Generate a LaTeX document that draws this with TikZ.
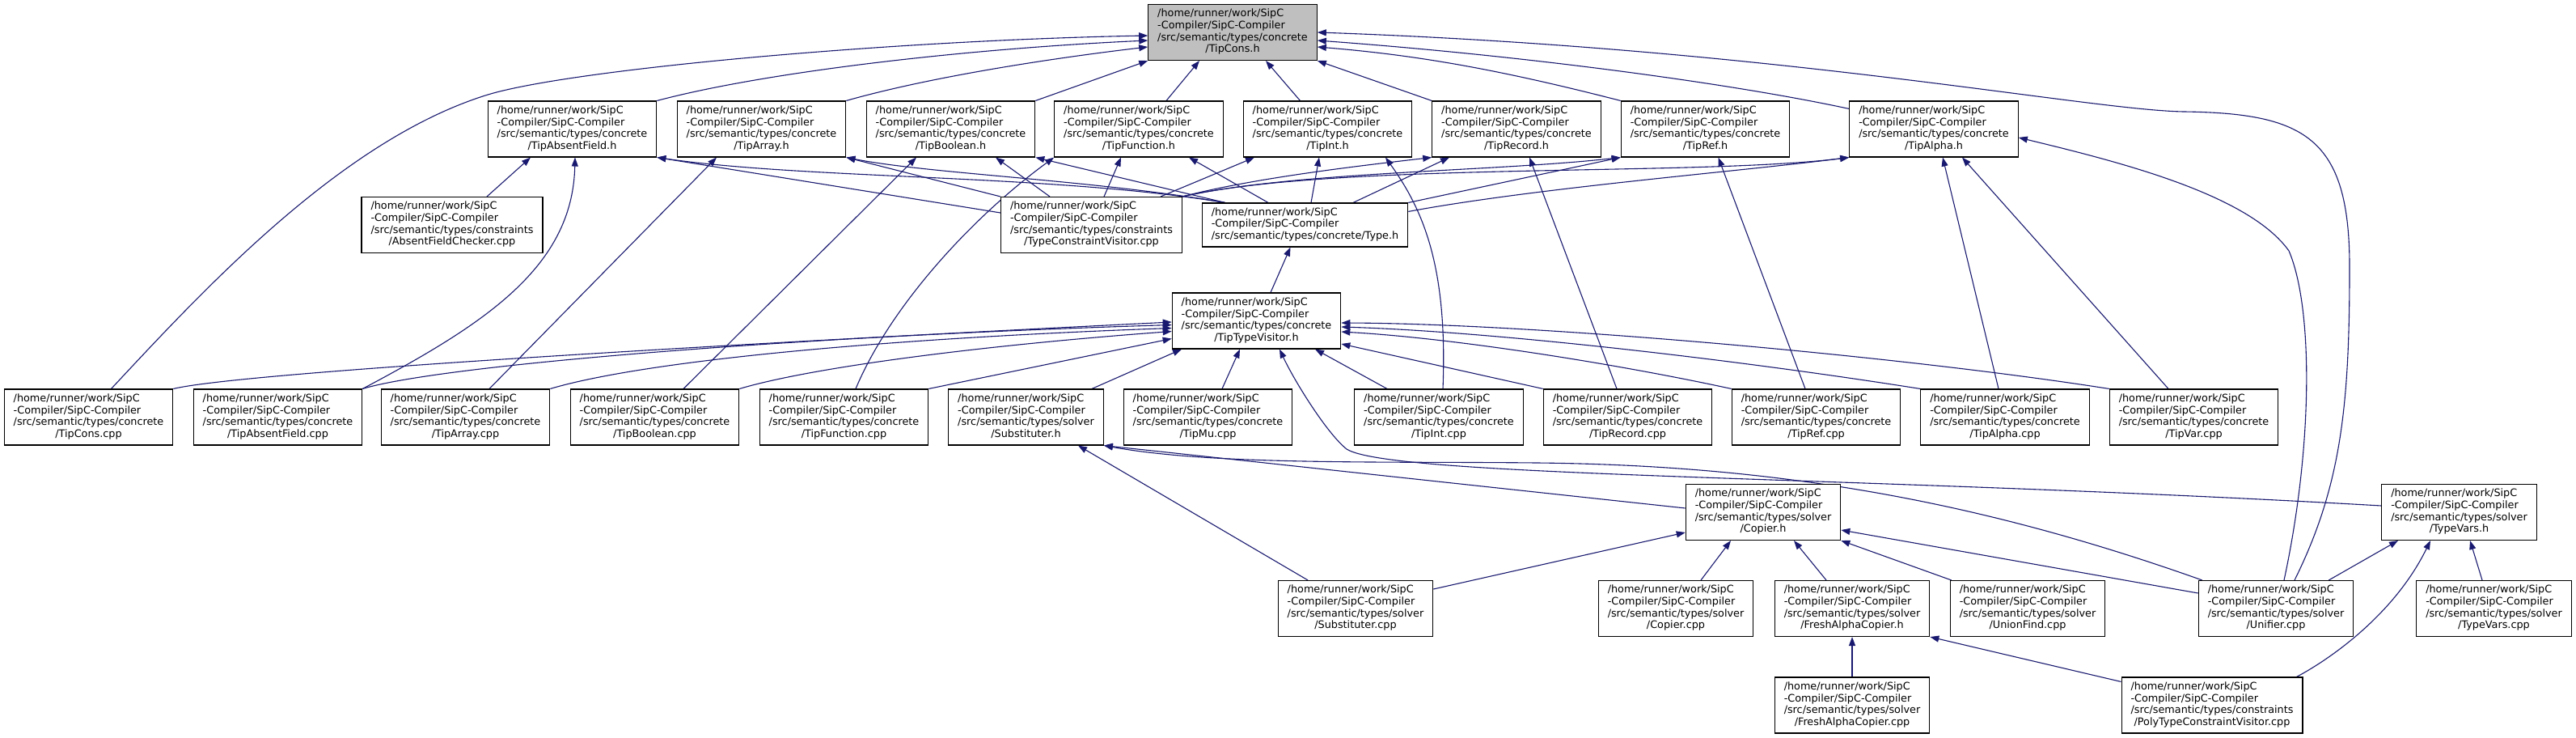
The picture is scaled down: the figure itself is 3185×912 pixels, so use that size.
\documentclass[tikz,border=0pt]{standalone}
\usepackage{fontspec}
\setmainfont{DejaVu Sans}
\usetikzlibrary{arrows.meta,backgrounds}
\definecolor{edgeblue}{HTML}{191970}
\definecolor{rootgray}{HTML}{BFBFBF}
\newcommand{\incfile}[2]{\begin{tabular}{@{}l@{}}/home/runner/work/SipC\\-Compiler/SipC-Compiler\\/src/semantic/types/#1\\\multicolumn{1}{@{}c@{}}{/#2}\end{tabular}}
\tikzset{file/.style={draw,fill=white,line width=1.1pt,inner xsep=11.5pt,inner ysep=0pt,minimum height=69pt,
    font=\fontsize{12.8}{14.7}\selectfont},
  root/.style={file,fill=rootgray},
  edge/.style={-{Triangle[length=11pt,width=8pt]},draw=edgeblue,line width=1.1pt}}

\begin{document}
\begin{tikzpicture}[x=1pt,y=-1pt]
\useasboundingbox (0,0) rectangle (3185,912);
\node[root] (tcons) at (1524,40) {\incfile{concrete}{TipCons.h}};
\foreach \n/\x/\f in {absh/707.5/TipAbsentField.h,arrh/941.5/TipArray.h,boolh/1175.5/TipBoolean.h,funh/1408/TipFunction.h,
  inth/1641.5/TipInt.h,rech/1875/TipRecord.h,refh/2108.5/TipRef.h,alphah/2391/TipAlpha.h}
  \node[file] (\n) at (\x,159.5) {\incfile{concrete}{\f}};
\node[file] (afc) at (559,278) {\incfile{constraints}{AbsentFieldChecker.cpp}};
\node[file] (tcv) at (1349.5,278) {\incfile{constraints}{TypeConstraintVisitor.cpp}};
\node[file,minimum height=54pt] (typeh) at (1613.5,278)
  {\begin{tabular}{@{}l@{}}/home/runner/work/SipC\\-Compiler/SipC-Compiler\\/src/semantic/types/concrete/Type.h\end{tabular}};
\node[file] (ttv) at (1553.5,396.5) {\incfile{concrete}{TipTypeVisitor.h}};
\foreach \n/\x/\f in {conscpp/109.5/TipCons.cpp,abscpp/343.5/TipAbsentField.cpp,arrcpp/575.5/TipArray.cpp,boolcpp/809.5/TipBoolean.cpp,
  funcpp/1043.5/TipFunction.cpp,mucpp/1493.5/TipMu.cpp,intcpp/1779/TipInt.cpp,reccpp/2012.5/TipRecord.cpp,refcpp/2245.5/TipRef.cpp,
  alphacpp/2479/TipAlpha.cpp,varcpp/2712.5/TipVar.cpp}
  \node[file] (\n) at (\x,515.5) {\incfile{concrete}{\f}};
\foreach \n/\x/\y/\f in {substh/1268.5/515.5/Substituter.h,copierh/2180/633/Copier.h,tvarsh/3040.5/633/TypeVars.h,
  substcpp/1676/752/Substituter.cpp,copiercpp/2072/752/Copier.cpp,fach/2290/752/FreshAlphaCopier.h,ufcpp/2507/752/UnionFind.cpp,
  unifcpp/2814/752/Unifier.cpp,tvarscpp/3083.5/752/TypeVars.cpp,faccpp/2290/871.5/FreshAlphaCopier.cpp}
  \node[file] (\n) at (\x,\y) {\incfile{solver}{\f}};
\node[file] (ptcv) at (2735,871.5) {\incfile{constraints}{PolyTypeConstraintVisitor.cpp}};

\begin{scope}[on background layer]
\fill[white] (0,0) rectangle (3185,912);
% TipCons.h
\draw[edge] ([xshift=28pt]conscpp.north) .. controls (250,360) and (420,175) .. (600,118) .. controls (700,86) and (1100,50) .. ([yshift=-4pt]tcons.west);
\draw[edge] (absh.north east) .. controls (950,88) and (1200,60) .. ([yshift=-10pt]tcons.west);
\draw[edge] (arrh.north east) .. controls (1150,95) and (1300,72) .. ([yshift=-18pt]tcons.west);
\draw[edge] (boolh.north east) -- (tcons.south west);
\draw[edge] ([xshift=34pt]funh.north) -- ([xshift=-41pt]tcons.south);
\draw[edge] ([xshift=-34pt]inth.north) -- ([xshift=41pt]tcons.south);
\draw[edge] (rech.north west) -- (tcons.south east);
\draw[edge] (refh.north west) .. controls (1850,85) and (1750,68) .. ([yshift=-18pt]tcons.east);
\draw[edge] ([yshift=-10pt]alphah.north west) .. controls (2150,105) and (1900,70) .. ([yshift=-10pt]tcons.east);
\draw[edge] ([xshift=23pt]unifcpp.north) .. controls (2895,600) and (2905,500) .. (2905,330) .. controls (2905,170) and (2850,140) .. (2700,138)
  .. controls (2580,136) and (2200,60) .. (tcons.east);
% TipAbsentField.h, TipArray.h, TipBoolean.h, TipFunction.h
\draw[edge] ([xshift=43pt]afc.north) -- ([xshift=-51.5pt]absh.south);
\draw[edge] (abscpp.north east) .. controls (600,400) and (708,330) .. ([xshift=3.5pt]absh.south);
\draw[edge] ([yshift=15pt]tcv.west) -- (absh.south east);
\draw[edge] ([xshift=29pt]typeh.north west) .. controls (1300,215) and (1000,222) .. (absh.south east);
\draw[edge] ([xshift=29.5pt]arrcpp.north) -- ([xshift=-55.5pt]arrh.south);
\draw[edge] (tcv.north west) -- (arrh.south east);
\draw[edge] ([xshift=29pt]typeh.north west) .. controls (1350,222) and (1150,215) .. (arrh.south east);
\draw[edge] ([xshift=35.5pt]boolcpp.north) -- ([xshift=-42.5pt]boolh.south);
\draw[edge] ([xshift=-51.5pt]tcv.north) -- ([xshift=55.5pt]boolh.south);
\draw[edge] ([xshift=29pt]typeh.north west) -- (boolh.south east);
\draw[edge] ([xshift=14.5pt]funcpp.north) .. controls (1100,380) and (1200,270) .. (funh.south west);
\draw[edge] ([xshift=15.5pt]tcv.north) -- ([xshift=-22pt]funh.south);
\draw[edge] ([xshift=-45.5pt]typeh.north) -- ([xshift=62pt]funh.south);
% TipInt.h, TipRecord.h, TipRef.h, TipAlpha.h
\draw[edge] ([xshift=5pt]intcpp.north) .. controls (1790,330) and (1760,260) .. ([xshift=71.5pt]inth.south);
\draw[edge] ([xshift=85.5pt]tcv.north) -- ([xshift=-90.5pt]inth.south);
\draw[edge] ([xshift=7.5pt]typeh.north) -- ([xshift=-10.5pt]inth.south);
\draw[edge] ([xshift=-13.5pt]reccpp.north) -- ([xshift=16pt]rech.south);
\draw[edge] (tcv.north east) .. controls (1550,220) and (1680,205) .. (rech.south west);
\draw[edge] ([xshift=59.5pt]typeh.north) -- ([xshift=-83pt]rech.south);
\draw[edge] ([xshift=-13.5pt]refcpp.north) -- ([xshift=16pt]refh.south);
\draw[edge] (tcv.north east) .. controls (1600,212) and (1850,212) .. (refh.south west);
\draw[edge] (typeh.north east) -- (refh.south west);
\draw[edge] ([xshift=-8pt]alphacpp.north) -- ([xshift=11pt]alphah.south);
\draw[edge] ([xshift=-31.5pt]varcpp.north) -- ([xshift=35pt]alphah.south);
\draw[edge] ([xshift=10pt]unifcpp.north) .. controls (2860,550) and (2860,380) .. (2830,310) .. controls (2780,240) and (2620,200) .. ([yshift=-10.5pt]alphah.east);
\draw[edge] (tcv.north east) .. controls (1650,200) and (2100,218) .. (alphah.south west);
\draw[edge] ([yshift=-11pt]typeh.north east) .. controls (1900,232) and (2150,212) .. (alphah.south west);
% Type.h, TipTypeVisitor.h
\draw[edge] ([xshift=17.5pt]ttv.north) -- ([xshift=-18pt]typeh.south);
\draw[edge] (conscpp.north east) .. controls (300,460) and (900,425) .. ([yshift=-1.5pt]ttv.west);
\draw[edge] (abscpp.north east) .. controls (550,450) and (1000,415) .. ([yshift=-5pt]ttv.west);
\draw[edge] (arrcpp.north east) .. controls (800,445) and (1100,418) .. ([yshift=-9pt]ttv.west);
\draw[edge] (boolcpp.north east) .. controls (1000,455) and (1200,428) .. ([yshift=-13pt]ttv.west);
\draw[edge] (funcpp.north east) -- ([yshift=-22pt]ttv.west);
\draw[edge] ([xshift=81.5pt]substh.north) -- ([xshift=-92.5pt]ttv.south);
\draw[edge] ([xshift=17.5pt]mucpp.north) -- ([xshift=-20.5pt]ttv.south);
\draw[edge] ([yshift=8pt]tvarsh.west) .. controls (2300,588) and (1720,590) .. (1665,555) .. controls (1640,535) and (1600,470) .. ([xshift=28.5pt]ttv.south);
\draw[edge] ([xshift=-64pt]intcpp.north) -- ([xshift=72.5pt]ttv.south);
\draw[edge] (reccpp.north west) -- ([yshift=-28.5pt]ttv.east);
\draw[edge] (refcpp.north west) .. controls (2000,450) and (1800,418) .. ([yshift=-13.5pt]ttv.east);
\draw[edge] (alphacpp.north west) .. controls (2150,445) and (1850,410) .. ([yshift=-7.5pt]ttv.east);
\draw[edge] (varcpp.north west) .. controls (2350,440) and (1900,400) .. ([yshift=-2.5pt]ttv.east);
% solver
\draw[edge] ([xshift=-59pt]substcpp.north) -- ([xshift=64.5pt]substh.south);
\draw[edge] ([yshift=5pt]copierh.west) -- (substh.south east);
\draw[edge] ([xshift=5pt]unifcpp.north west) .. controls (2450,620) and (2200,575) .. (1900,572) .. controls (1700,570) and (1500,575) .. (substh.south east);
\draw[edge] ([yshift=24pt]substcpp.east) -- ([yshift=-25pt]copierh.west);
\draw[edge] ([xshift=31pt]copiercpp.north) -- ([xshift=-40pt]copierh.south);
\draw[edge] ([xshift=-32pt]fach.north) -- ([xshift=38pt]copierh.south);
\draw[edge] ([xshift=2pt]ufcpp.north west) -- (copierh.south east);
\draw[edge] ([yshift=19pt]unifcpp.west) -- ([yshift=-22pt]copierh.east);
\draw[edge] ([xshift=-31pt]unifcpp.north east) -- ([xshift=-75.5pt]tvarsh.south);
\draw[edge] ([xshift=-8pt]ptcv.north east) .. controls (2880,815) and (2960,760) .. ([xshift=-35.5pt]tvarsh.south);
\draw[edge] ([xshift=-14.5pt]tvarscpp.north) -- ([xshift=13.5pt]tvarsh.south);
\draw[edge] (faccpp.north) -- (fach.south);
\draw[edge] ([yshift=-6pt]ptcv.north west) -- (fach.south east);
\end{scope}
\end{tikzpicture}
\end{document}
